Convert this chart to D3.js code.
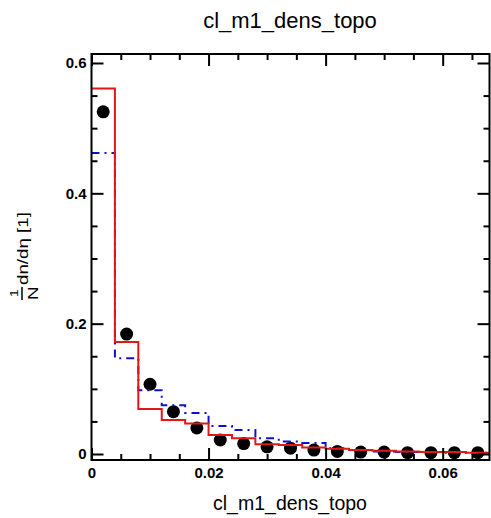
<!DOCTYPE html>
<html lang="en">
<head>
<meta charset="utf-8">
<title>cl_m1_dens_topo</title>
<script src="https://cdn.jsdelivr.net/npm/d3@7"></script>
<style>
	body{ margin: 0; background: white; }
	text{ font-family: "Liberation Sans", Arial, Helvetica, sans-serif; fill: #000; }
</style>
</head>
<body>
<div id="chart"></div>
<script>

	/** bins of the histogram (low edges, width 0.004) */
	var binLow = [0, 0.004, 0.008, 0.012, 0.016, 0.020, 0.024, 0.028, 0.032,
		0.036, 0.040, 0.044, 0.048, 0.052, 0.056, 0.060, 0.064];
	var binWidth = 0.004;

	/** data points (black dots) */
	var dataVals = [0.525, 0.184, 0.107, 0.065, 0.040, 0.0215, 0.016, 0.011, 0.009,
		0.006, 0.004, 0.003, 0.003, 0.002, 0.002, 0.002, 0.002];
	/** red solid histogram */
	var redVals = [0.561, 0.172, 0.069, 0.052, 0.047, 0.029, 0.024, 0.015, 0.014,
		0.010, 0.008, 0.006, 0.005, 0.004, 0.003, 0.003, 0.002];
	/** blue dash-dot histogram */
	var blueVals = [0.462, 0.147, 0.098, 0.075, 0.063, 0.043, 0.037, 0.024, 0.019,
		0.017, 0.009, 0.006, 0.004, 0.003, 0.003, 0.002, 0.002];

	/** ticks */
	var xMajor = [0, 0.02, 0.04, 0.06];
	var xMinor = [0.005, 0.01, 0.015, 0.025, 0.03, 0.035, 0.045, 0.05, 0.055, 0.065];
	var yMajor = [0, 0.2, 0.4, 0.6];
	var yMinor = [0.05, 0.1, 0.15, 0.25, 0.3, 0.35, 0.45, 0.5, 0.55];

	var title = "cl_m1_dens_topo";
	var xTitle = "cl_m1_dens_topo";

	var width = 491, height = 518;
	var pLeft = 91.5, pRight = 489.5, pTop = 54, pBottom = 460;

	var svg = d3.select("#chart").append("svg")
		.attr("width", width)
		.attr("height", height);

	svg.append("rect").attr("width", width).attr("height", height).attr("fill", "white");

	var x = d3.scaleLinear().domain([0, 0.068]).range([pLeft, pRight]);
	var y = d3.scaleLinear().domain([-0.0092, 0.6138]).range([pBottom, pTop]);

	/** step path through the bins */
	function stepPath(vals){
		var pts = [];
		vals.forEach(function(v, i){
			pts.push([x(binLow[i]), y(v)]);
			pts.push([x(binLow[i] + binWidth), y(v)]);
		});
		return d3.line()(pts);
	}

	// dots
	svg.selectAll("circle.data")
		.data(dataVals)
		.enter()
		.append("circle")
		.attr("class", "data")
		.attr("cx", function(d, i){ return x(binLow[i] + binWidth / 2); })
		.attr("cy", function(d){ return y(d); })
		.attr("r", 6.5)
		.attr("fill", "#000");

	// blue dash-dot
	svg.append("path")
		.attr("d", stepPath(blueVals))
		.attr("fill", "none")
		.attr("stroke", "#1010d0")
		.attr("stroke-width", 2)
		.attr("stroke-dasharray", "8,5,2,5");

	// red solid
	svg.append("path")
		.attr("d", stepPath(redVals))
		.attr("fill", "none")
		.attr("stroke", "#e01818")
		.attr("stroke-width", 2);

	/** axes, ticks pointing inward */
	function styleAxis(g){
		g.select(".domain").remove();
		g.selectAll(".tick line").attr("stroke", "#000").attr("stroke-width", 2);
		g.selectAll(".tick text").attr("font-size", 15).attr("fill", "#000")
			.attr("font-weight", "bold")
			.attr("font-family", "Liberation Sans, Arial, sans-serif");
	}
	var fmt = function(d){ return String(d); };

	svg.append("g").attr("transform", "translate(0," + pBottom + ")")
		.call(d3.axisBottom(x).tickValues(xMajor).tickSize(-12).tickPadding(7).tickFormat(fmt))
		.call(styleAxis);
	svg.append("g").attr("transform", "translate(0," + pBottom + ")")
		.call(d3.axisBottom(x).tickValues(xMinor).tickSize(-6).tickFormat(""))
		.call(styleAxis);
	svg.append("g").attr("transform", "translate(0," + pTop + ")")
		.call(d3.axisTop(x).tickValues(xMajor).tickSize(-12).tickFormat(""))
		.call(styleAxis);
	svg.append("g").attr("transform", "translate(0," + pTop + ")")
		.call(d3.axisTop(x).tickValues(xMinor).tickSize(-6).tickFormat(""))
		.call(styleAxis);

	svg.append("g").attr("transform", "translate(" + pLeft + ",0)")
		.call(d3.axisLeft(y).tickValues(yMajor).tickSize(-12).tickPadding(5).tickFormat(fmt))
		.call(styleAxis);
	svg.append("g").attr("transform", "translate(" + pLeft + ",0)")
		.call(d3.axisLeft(y).tickValues(yMinor).tickSize(-6).tickFormat(""))
		.call(styleAxis);
	svg.append("g").attr("transform", "translate(" + pRight + ",0)")
		.call(d3.axisRight(y).tickValues(yMajor).tickSize(-12).tickFormat(""))
		.call(styleAxis);
	svg.append("g").attr("transform", "translate(" + pRight + ",0)")
		.call(d3.axisRight(y).tickValues(yMinor).tickSize(-6).tickFormat(""))
		.call(styleAxis);

	// frame
	svg.append("rect")
		.attr("x", pLeft).attr("y", pTop)
		.attr("width", pRight - pLeft).attr("height", pBottom - pTop)
		.attr("fill", "none").attr("stroke", "#000").attr("stroke-width", 2);

	// titles
	svg.append("text")
		.attr("x", 290).attr("y", 28)
		.attr("text-anchor", "middle")
		.attr("font-size", 22)
		.text(title);

	svg.append("text")
		.attr("x", 290).attr("y", 510)
		.attr("text-anchor", "middle")
		.attr("font-size", 19.5)
		.text(xTitle);

	// y title: 1/N dn/dη [1], stretched along its baseline
	var yt = svg.append("g").attr("transform", "translate(38,300) rotate(-90) scale(1.25,1)");
	yt.append("text").attr("x", 0).attr("y", 0).attr("font-size", 15).text("N");
	yt.append("text").attr("x", 2.5).attr("y", -20).attr("font-size", 11).text("1");
	yt.append("line").attr("x1", 0).attr("x2", 10.5).attr("y1", -16).attr("y2", -16)
		.attr("stroke", "#000").attr("stroke-width", 1.5);
	yt.append("text").attr("x", 12).attr("y", -10).attr("font-size", 15).text("dn/dη [1]");

</script>
</body>
</html>
